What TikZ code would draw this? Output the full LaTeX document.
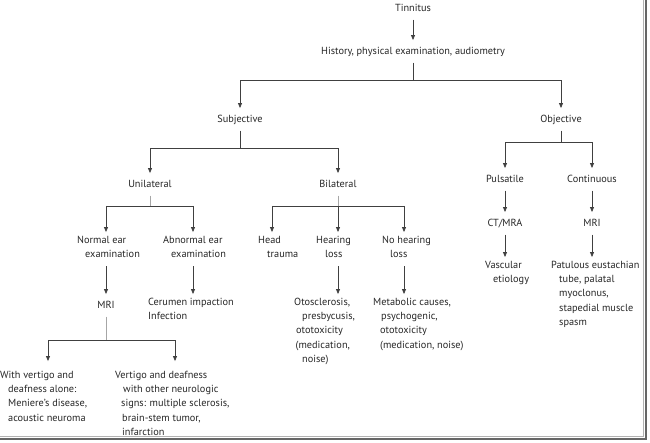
\documentclass[tikz,border=0pt]{standalone}
\usepackage{fontspec}
\setmainfont{PT Sans}
\usetikzlibrary{arrows.meta}
\begin{document}
\begin{tikzpicture}[x=1pt,y=-1pt,
  txt/.style={font=\fontsize{10.3}{14.2}\selectfont, text=black!85, inner xsep=0pt, inner ysep=4pt,
    execute at begin node=\strut, execute at end node=\strut, yshift=13.94pt},
  lt/.style={txt, anchor=north west, align=left},
  ct/.style={txt, anchor=north, align=center},
  ln/.style={draw=black!75, line width=0.7pt},
  stem/.style={draw=black!35, line width=0.7pt},
  arr/.style={ln, -{Triangle[length=5pt,width=4pt]}}
]
\useasboundingbox (0,0) rectangle (650,443);
% shadow frame
\draw[black!30, line width=1pt] (643.5,0) -- (643.5,436.5) -- (0,436.5);
\draw[black!60, line width=2.5pt] (646,0) -- (646,439) -- (0,439);

% nodes
\node[ct] (tin) at (413,11) {Tinnitus};
\node[ct] (hist) at (413,54) {History, physical examination, audiometry};
\node[ct] (subj) at (240,122) {Subjective};
\node[ct] (obj) at (561,122) {Objective};
\node[ct] (uni) at (150,187) {Unilateral};
\node[ct] (bil) at (338,187) {Bilateral};
\node[ct] (puls) at (505,182) {Pulsatile};
\node[ct] (cont) at (592,182) {Continuous};
\node[ct] (ctmra) at (505,226) {CT/MRA};
\node[ct] (mri2) at (592,226) {MRI};
\node[lt] (vasc) at (485,271) {Vascular\\\hspace*{8pt}etiology};
\node[lt] (pat) at (551,271) {Patulous eustachian\\\hspace*{8pt}tube, palatal\\\hspace*{8pt}myoclonus,\\\hspace*{8pt}stapedial muscle\\\hspace*{8pt}spasm};
\node[lt] (ne) at (77,246) {Normal ear\\\hspace*{8pt}examination};
\node[lt] (ae) at (163,246) {Abnormal ear\\\hspace*{8pt}examination};
\node[lt] (ht) at (258,246) {Head\\\hspace*{9pt}trauma};
\node[lt] (hl) at (316,246) {Hearing\\\hspace*{9pt}loss};
\node[lt] (nh) at (382,246) {No hearing\\\hspace*{8pt}loss};
\node[ct] (mri) at (106,308) {MRI};
\node[lt] (cer) at (148,308) {Cerumen impaction\\Infection};
\node[lt] (oto) at (294,308) {Otosclerosis,\\\hspace*{8pt}presbycusis,\\\hspace*{2pt}ototoxicity\\\hspace*{1.5pt}(medication,\\\hspace*{8pt}noise)};
\node[lt] (met) at (373,308) {Metabolic causes,\\\hspace*{8pt}psychogenic,\\\hspace*{7pt}ototoxicity\\\hspace*{7pt}(medication, noise)};
\node[lt] (wv) at (0,381) {With vertigo and\\\hspace*{8pt}deafness alone:\\\hspace*{8pt}Meniere's disease,\\\hspace*{8pt}acoustic neuroma};
\node[lt] (vd) at (115,381) {Vertigo and deafness\\\hspace*{8pt}with other neurologic\\\hspace*{6pt}signs: multiple sclerosis,\\\hspace*{7pt}brain-stem tumor,\\\hspace*{7pt}infarction};

% junction coordinates
\coordinate (bH) at (413,80);
\coordinate (bS) at (240,148);
\coordinate (bO) at (561,142);
\coordinate (bU) at (150,206);
\coordinate (cNE) at (106,206);
\coordinate (cAE) at (193,206);
\coordinate (bB) at (338,206);
\coordinate (cHT) at (272,206);
\coordinate (cNH) at (404,206);
\coordinate (bM) at (106,340);
\coordinate (cWV) at (48,340);
\coordinate (cVD) at (175,340);

% connectors
\draw[arr] (tin.south) -- (hist.north);
\draw[ln] (hist.south) -- (bH);
\draw[arr] (bH) -| (subj.north);
\draw[arr] (bH) -| (obj.north);

\draw[ln] (subj.south) -- (bS);
\draw[arr] (bS) -| (uni.north);
\draw[arr] (bS) -| (bil.north);

\draw[ln] (obj.south) -- (bO);
\draw[arr] (bO) -| (puls.north);
\draw[arr] (bO) -| (cont.north);
\draw[arr] (puls.south) -- (ctmra.north);
\draw[arr] (cont.south) -- (mri2.north);
\draw[arr] (ctmra.south) -- (ctmra.south |- vasc.north);
\draw[arr] (mri2.south) -- (mri2.south |- pat.north);

\draw[stem] (uni.south) -- (bU);
\draw[ln] (cNE) -- (cAE);
\draw[arr] (cNE) -- (cNE |- ne.north);
\draw[arr] (cAE) -- (cAE |- ae.north);
\draw[arr] (ne.south -| cNE) -- (mri.north);
\draw[arr] (ae.south -| cAE) -- (cAE |- cer.north);

\draw[stem] (mri.south) -- (bM);
\draw[ln] (cWV) -- (cVD);
\draw[arr, shorten >=6pt] (cWV) -- (cWV |- wv.north);
\draw[arr, shorten >=6pt] (cVD) -- (cVD |- vd.north);

\draw[stem] (bil.south) -- (bB);
\draw[ln] (cHT) -- (cNH);
\draw[arr] (cHT) -- (cHT |- ht.north);
\draw[arr] (bB) -- (bB |- hl.north);
\draw[arr] (cNH) -- (cNH |- nh.north);
\draw[arr] (hl.south -| bB) -- (bB |- oto.north);
\draw[arr] (nh.south -| cNH) -- (cNH |- met.north);
\end{tikzpicture}
\end{document}
